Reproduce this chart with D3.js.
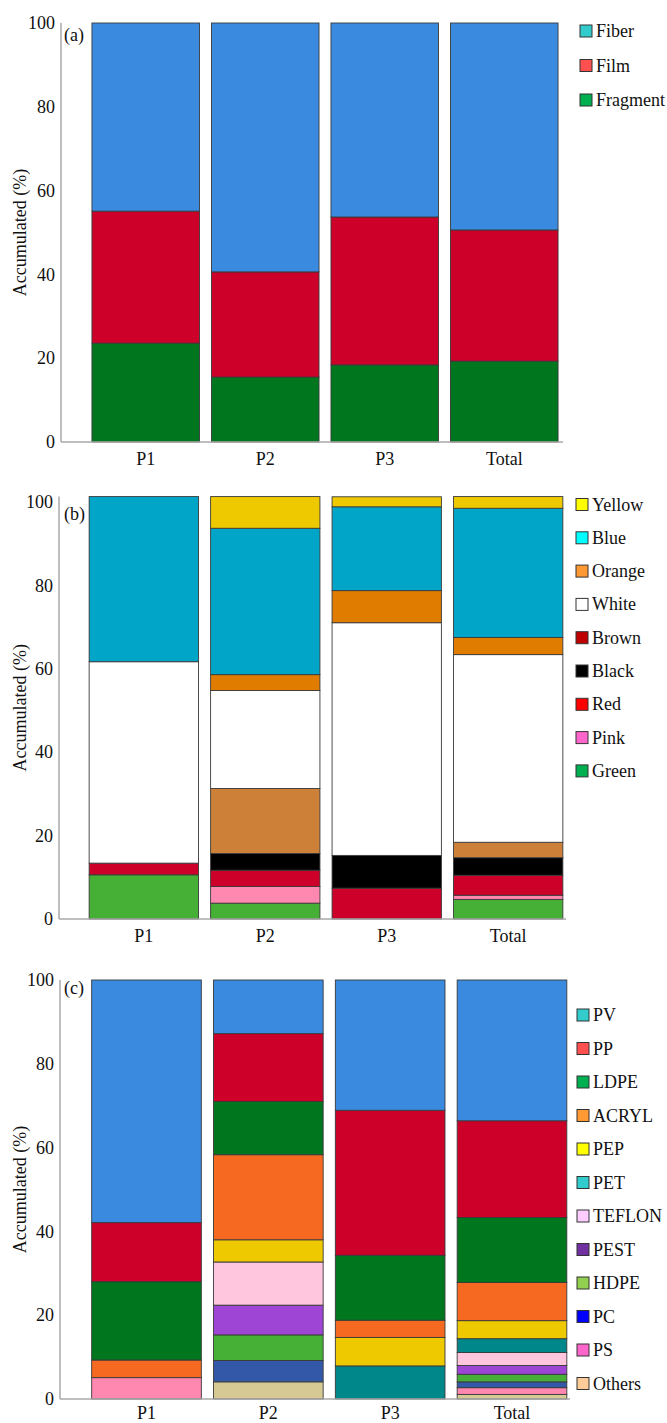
<!DOCTYPE html>
<html>
<head>
<meta charset="utf-8">
<script src="https://cdn.jsdelivr.net/npm/d3@7"></script>
<style>
  html, body { margin: 0; padding: 0; background: #fff; }
  svg { display: block; }
</style>
</head>
<body>
<svg id="chart" width="667" height="1423"></svg>
<script>
// ---------- categories ----------
const categories = ["P1", "P2", "P3", "Total"];
const yTicks = [0, 20, 40, 60, 80, 100];
const axisTitle = "Accumulated (%)";

// ---------- panel (a): shape ----------
const shapeKeys = ["Fragment", "Film", "Fiber"];          // bottom -> top
const fragmentVals = [23.6, 15.5, 18.4, 19.3];
const filmVals     = [31.5, 25.1, 35.3, 31.3];
const fiberVals    = [44.9, 59.4, 46.3, 49.4];
const shapeLegend  = ["Fiber", "Film", "Fragment"];

// ---------- panel (b): colour ----------
const colourKeys = ["Green", "Pink", "Red", "Black", "Brown", "White", "Orange", "Blue", "Yellow"];
const greenVals  = [10.6, 3.8, 0, 4.7];
const pinkVals   = [0, 4.0, 0, 1.0];
const redVals    = [2.8, 3.9, 7.4, 4.8];
const blackVals  = [0, 4.0, 7.85, 4.2];
const brownVals  = [0, 15.6, 0, 3.7];
const whiteVals  = [48.3, 23.5, 55.8, 45.0];
const orangeVals = [0, 3.8, 7.7, 4.1];
const blueVals   = [39.6, 35.1, 20.1, 31.0];
const yellowVals = [0, 7.6, 2.4, 2.8];
const colourLegend = ["Yellow", "Blue", "Orange", "White", "Brown", "Black", "Red", "Pink", "Green"];

// ---------- panel (c): polymer ----------
const polymerKeys = ["Others", "PS", "PC", "HDPE", "PEST", "TEFLON", "PET", "PEP", "ACRYL", "LDPE", "PP", "PV"];
const othersVals = [0, 4.1, 0, 1.1];
const psVals     = [5.1, 0, 0, 1.6];
const pcVals     = [0, 5.1, 0, 1.4];
const hdpeVals   = [0, 6.1, 0, 1.8];
const pestVals   = [0, 7.1, 0, 2.1];
const teflonVals = [0, 10.3, 0, 3.1];
const petVals    = [0, 0, 7.9, 3.3];
const pepVals    = [0, 5.3, 6.8, 4.3];
const acrylVals  = [4.2, 20.3, 4.1, 9.1];
const ldpeVals   = [18.7, 12.7, 15.5, 15.5];
const ppVals     = [14.1, 16.2, 34.6, 23.1];
const pvVals     = [57.9, 12.8, 31.1, 33.6];
const polymerLegend = ["PV", "PP", "LDPE", "ACRYL", "PEP", "PET", "TEFLON", "PEST", "HDPE", "PC", "PS", "Others"];

// ---------- styles ----------
const FONT = "serif";
const barColour = {
  a: { Fragment: "#00761e", Film: "#cc0029", Fiber: "#3a8be0" },
  b: { Green: "#45b035", Pink: "#ff88b0", Red: "#cc0029", Black: "#000000", Brown: "#cd8038",
       White: "#ffffff", Orange: "#e07c00", Blue: "#00a5c8", Yellow: "#eec900" },
  c: { Others: "#d6c994", PS: "#ff88b0", PC: "#3358a8", HDPE: "#45b035", PEST: "#9e45d6",
       TEFLON: "#ffc6dd", PET: "#00878a", PEP: "#eec900", ACRYL: "#f56a20", LDPE: "#00761e",
       PP: "#cc0029", PV: "#3a8be0" }
};
const legendColour = {
  a: { Fiber: "#33cccc", Film: "#ff5050", Fragment: "#00b050" },
  b: { Yellow: "#ffff00", Blue: "#00ffff", Orange: "#ff9933", White: "#ffffff", Brown: "#c00000",
       Black: "#000000", Red: "#ff0000", Pink: "#ff66cc", Green: "#00b050" },
  c: { PV: "#33cccc", PP: "#ff5050", LDPE: "#00b050", ACRYL: "#ff9933", PEP: "#ffff00", PET: "#33cccc",
       TEFLON: "#ffccff", PEST: "#7030a0", HDPE: "#92d050", PC: "#0000ff", PS: "#ff66cc", Others: "#ffcc99" }
};

const panels = [
  { id: "a", label: "(a)", keys: shapeKeys,
    series: { Fragment: fragmentVals, Film: filmVals, Fiber: fiberVals },
    legend: shapeLegend,
    y0: 442, y100: 23, axisX: 61, xRange: [80, 570], baseEnd: 563,
    legSwX: 580, legY0: 31, legStep: 34.5, xLabelDy: 24, labelY: 41 },
  { id: "b", label: "(b)", keys: colourKeys,
    series: { Green: greenVals, Pink: pinkVals, Red: redVals, Black: blackVals, Brown: brownVals,
              White: whiteVals, Orange: orangeVals, Blue: blueVals, Yellow: yellowVals },
    legend: colourLegend,
    y0: 919, y100: 502, axisX: 59, xRange: [77, 575], baseEnd: 566,
    legSwX: 576, legY0: 504.5, legStep: 33.3, xLabelDy: 24, labelY: 520 },
  { id: "c", label: "(c)", keys: polymerKeys,
    series: { Others: othersVals, PS: psVals, PC: pcVals, HDPE: hdpeVals, PEST: pestVals,
              TEFLON: teflonVals, PET: petVals, PEP: pepVals, ACRYL: acrylVals, LDPE: ldpeVals,
              PP: ppVals, PV: pvVals },
    legend: polymerLegend,
    y0: 1399, y100: 980, axisX: 60, xRange: [79.5, 579], baseEnd: 570,
    legSwX: 577, legY0: 1015, legStep: 33.5, xLabelDy: 21, labelY: 994 }
];

const svg = d3.select("#chart");

panels.forEach(p => {
  const g = svg.append("g").style("font-family", FONT);
  const rows = categories.map((c, i) => {
    const r = { cat: c };
    p.keys.forEach(k => { r[k] = p.series[k][i]; });
    return r;
  });
  const stacked = d3.stack().keys(p.keys)(rows);
  const maxTop = d3.max(rows, r => d3.sum(p.keys, k => r[k]));

  const y = d3.scaleLinear().domain([0, 100]).range([p.y0, p.y100]);
  const x = d3.scaleBand().domain(categories).range(p.xRange).padding(0.1);

  g.selectAll("g.layer").data(stacked).join("g")
    .attr("class", "layer")
    .attr("fill", d => barColour[p.id][d.key])
    .selectAll("rect").data(d => d.filter(s => s[1] - s[0] > 0)).join("rect")
      .attr("x", d => x(d.data.cat))
      .attr("width", x.bandwidth())
      .attr("y", d => y(d[1]))
      .attr("height", d => y(d[0]) - y(d[1]))
      .attr("stroke", "#3a3a3a")
      .attr("stroke-width", 0.9);

  g.append("line")
    .attr("x1", p.axisX).attr("x2", p.axisX)
    .attr("y1", y(Math.max(maxTop, 100))).attr("y2", p.y0)
    .attr("stroke", "#a8a8a8").attr("stroke-width", 1.5);
  g.append("line")
    .attr("x1", p.axisX).attr("x2", p.baseEnd)
    .attr("y1", p.y0).attr("y2", p.y0)
    .attr("stroke", "#a8a8a8").attr("stroke-width", 1.5);

  const yAxis = d3.axisLeft(y).tickValues(yTicks).tickSize(0).tickPadding(6).tickFormat(d3.format("d"));
  const ax = g.append("g").attr("transform", `translate(${p.axisX},0)`).call(yAxis);
  ax.attr("font-family", null).attr("font-size", 18);
  ax.select(".domain").remove();
  ax.selectAll("text").style("font-family", FONT).attr("font-size", 18).attr("fill", "#111");

  const xAxis = d3.axisBottom(x).tickSize(0).tickPadding(p.xLabelDy - 14);
  const axb = g.append("g").attr("transform", `translate(0,${p.y0})`).call(xAxis);
  axb.attr("font-family", null).attr("font-size", 18);
  axb.select(".domain").remove();
  axb.selectAll("text").style("font-family", FONT).attr("font-size", 18).attr("fill", "#111");

  g.append("text")
    .attr("transform", `translate(26,${(p.y0 + y(Math.max(maxTop, 100))) / 2}) rotate(-90)`)
    .attr("text-anchor", "middle")
    .style("font-family", FONT).attr("font-size", 18).attr("fill", "#111")
    .text(axisTitle);

  g.append("text").attr("x", 64).attr("y", p.labelY)
    .style("font-family", FONT).attr("font-size", 18).attr("fill", "#111").text(p.label);

  const leg = g.selectAll("g.leg").data(p.legend).join("g")
    .attr("class", "leg")
    .attr("transform", (d, i) => `translate(${p.legSwX},${p.legY0 + i * p.legStep})`);
  leg.append("rect").attr("x", 0).attr("y", -6).attr("width", 12).attr("height", 12)
    .attr("fill", d => legendColour[p.id][d]).attr("stroke", "#333").attr("stroke-width", 1);
  leg.append("text").attr("x", 16).attr("y", 6)
    .style("font-family", FONT).attr("font-size", 18).attr("fill", "#111").text(d => d);
});
</script>
</body>
</html>
